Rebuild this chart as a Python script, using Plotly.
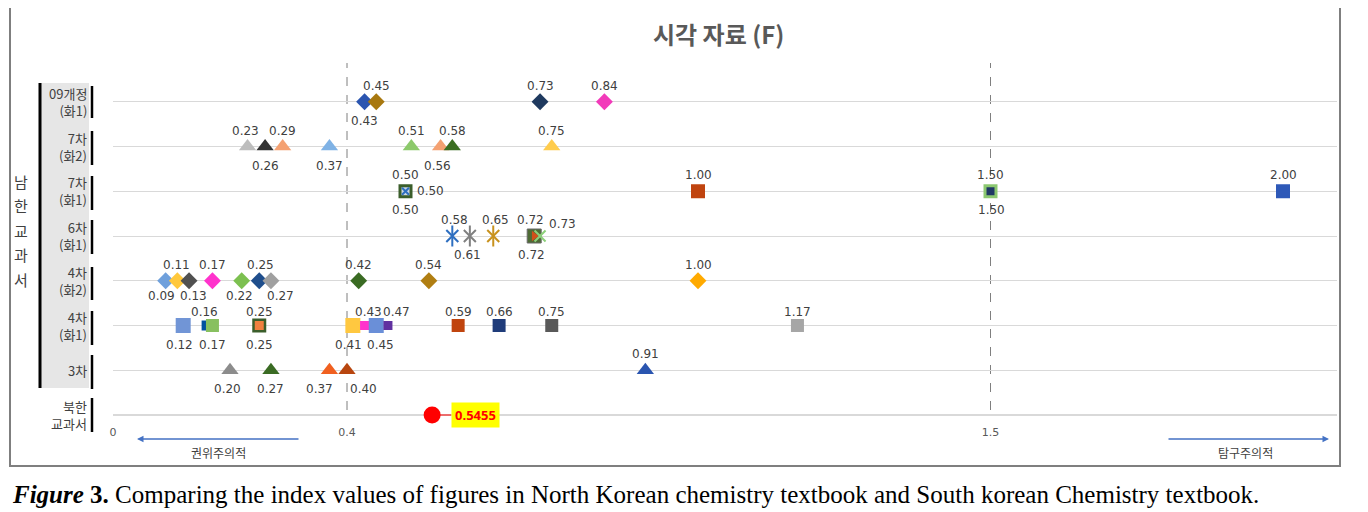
import plotly.graph_objects as go

# ---------------- data ----------------
row_labels = ["북한<br>교과서", "3차", "4차<br>(화1)", "4차<br>(화2)", "6차<br>(화1)",
              "7차<br>(화1)", "7차<br>(화2)", "09개정<br>(화1)"]
row_pos = [0, 1, 2, 3, 4, 5, 6, 7]

# 09개정(화1) – diamonds
r09_vals = [0.43, 0.45, 0.73, 0.84]
# 7차(화2) – triangles
r7b_vals = [0.23, 0.26, 0.29, 0.37, 0.51, 0.56, 0.58, 0.75]
# 7차(화1) – squares (layered)
r7a_outer_vals = [0.50, 1.00, 1.50, 2.00]
r7a_inner_vals = [0.50, 1.50]
r7a_x_vals = [0.50]
# 6차(화1)
r6_ast_vals = [0.58, 0.61, 0.65]
r6_sq_vals = [0.72]
r6_tri_vals = [0.72]
r6_x_vals = [0.73]
# 4차(화2) – diamonds
r4b_vals = [0.09, 0.11, 0.13, 0.17, 0.22, 0.25, 0.27, 0.42, 0.54, 1.00]
# 4차(화1) – squares
r4a_vals = [0.12, 0.16, 0.17, 0.25, 0.41, 0.43, 0.45, 0.47, 0.59, 0.66, 0.75, 1.17]
r4a_inner_vals = [0.25]
# 3차 – triangles
r3_vals = [0.20, 0.27, 0.37, 0.40, 0.91]
# 북한 교과서
nk_val = [0.5455]

x_ticks = [0, 0.4, 1.5]
x_ticktext = ["0", "0.4", "1.5"]

# ---------------- styles ----------------
r09_cols = ["#2B55B0", "#A8780F", "#1F3A5F", "#F23ABA"]
r7b_cols = ["#BDBDBD", "#333333", "#F4A172", "#7FB2E5", "#8CC96B", "#F4A172", "#3B6E22", "#FFCC4D"]
r7a_outer_cols = ["#3B5E2B", "#C0440F", "#8CC870", "#2E59B8"]
r7a_inner_cols = ["#C9D6E6", "#1F3864"]
r6_ast_cols = ["#2E6FC0", "#808080", "#C8921E"]
r4b_cols = ["#6FA0DC", "#FFC83C", "#505050", "#FF33CC", "#7CC050", "#1F4E8C",
            "#A0A0A0", "#3A6B23", "#B07E12", "#FFAA00"]
r4a_cols = ["#7195D6", "#0050A0", "#88C060", "#3B5E2B", "#FFC840", "#FF33CC",
            "#6A8FD8", "#6030A0", "#C0440E", "#1F3C7A", "#595959", "#A6A6A6"]
r4a_sizes = [15, 10, 13, 14, 15, 9, 15, 9, 13, 13, 13, 13]
r3_cols = ["#8C8C8C", "#3A6B23", "#F06020", "#B8460F", "#2A55B0"]

# label placement: (side, x-shift px)
r09_lbl = [("b", 0), ("a", 0), ("a", 0), ("a", 0)]
r7b_lbl = [("a", -2), ("b", 0), ("a", 0), ("b", 0), ("a", 0), ("b", -3), ("a", 0), ("a", 0)]
r7a_outer_lbl = [("a", 0), ("a", 0), ("a", 0), ("a", 0)]
r7a_inner_lbl = [("b", 0), ("b", 1)]
r7a_x_lbl = [("r", 25)]
r6_ast_lbl = [("a", 2), ("b", -2), ("a", 2)]
r6_sq_lbl = [("a", -4)]
r6_tri_lbl = [("b", -3)]
r6_x_lbl = [("ar", 22)]
r4b_lbl = [("bs", -4), ("a", -1), ("bs", 4), ("a", 0), ("bs", -2), ("a", 1), ("bs", 10),
           ("a", 0), ("a", 0), ("a", 0)]
r4a_lbl = [("b", -4), ("as", -2), ("b", 0), ("as", 0), ("b", -4), ("as", 4), ("b", 4), ("as", 9),
           ("as", 0), ("as", 0), ("as", 0), ("as", 0)]
r4a_inner_lbl = [("b", 0)]
r3_lbl = [("b", -3), ("b", 0), ("b", -10), ("b", 16), ("a", 0)]

# ---------------- layout helpers ----------------
OFF = 8                       # page offset of the plot div
W, H = 1368 - OFF, 512 - OFF
L, R, T, B = 113 - OFF, 1337 - OFF, 57 - OFF, 415 - OFF
XMAX = (R - L) / 585.0


def px(x):
    return (x - OFF - L) / (R - L)


def py(y):
    return (B - (y - OFF)) / (B - T)


LBL = dict(family="DejaVu Sans", size=12, color="#404040")
DY = {"a": 16, "as": 14, "b": -19, "bs": -15, "r": 0, "ar": 12}

fig = go.Figure()
annotations = []


def labels(vals, y, spec):
    for v, (side, dx) in zip(vals, spec):
        annotations.append(dict(x=v, y=y, xref="x", yref="y", text=f"{v:.2f}",
                                showarrow=False, xanchor="center", yanchor="middle",
                                xshift=dx, yshift=DY[side], font=LBL))


def add(vals, y, symbol, colors, size, spec=None, line=None, open_sym=False, lw=2):
    if open_sym:
        marker = dict(symbol=symbol, color=colors, size=size, opacity=1,
                      line=dict(width=lw, color=colors))
    else:
        marker = dict(symbol=symbol, color=colors, size=size, opacity=1,
                      line=line if line else dict(width=0))
    fig.add_trace(go.Scatter(x=vals, y=[y] * len(vals), mode="markers", marker=marker,
                             cliponaxis=False, showlegend=False, hoverinfo="x"))
    if spec:
        labels(vals, y, spec)


# 09개정
add(r09_vals, 7, "diamond", r09_cols, 13, r09_lbl)
# 7차(화2)
add(r7b_vals, 6, "triangle-up", r7b_cols, 15, r7b_lbl)
# 7차(화1)
add(r7a_outer_vals, 5, "square", r7a_outer_cols, 14, r7a_outer_lbl)
add(r7a_inner_vals, 5, "square", r7a_inner_cols, 8, r7a_inner_lbl)
add(r7a_x_vals, 5, "x-thin-open", ["#2E6FC0"], 7, r7a_x_lbl, open_sym=True)
# 6차(화1) asterisks (x + vertical bar)
add(r6_ast_vals, 4, "x-thin-open", r6_ast_cols, 12, r6_ast_lbl, open_sym=True)
add(r6_ast_vals, 4, "line-ns-open", r6_ast_cols, 15, None, open_sym=True)
add(r6_sq_vals, 4, "square", ["#4E6B35"], 14, r6_sq_lbl, line=dict(color="#6A6A6A", width=1))
add(r6_tri_vals, 4, "triangle-right", ["#D0501A"], 9, r6_tri_lbl)
add(r6_x_vals, 4, "x-thin-open", ["#8DD07A"], 11, r6_x_lbl, open_sym=True)
# 4차(화2)
add(r4b_vals, 3, "diamond", r4b_cols, 13, r4b_lbl)
# 4차(화1)
add(r4a_vals, 2, "square", r4a_cols, r4a_sizes, r4a_lbl)
add(r4a_inner_vals, 2, "square", ["#F08040"], 9, r4a_inner_lbl)
# 3차
add(r3_vals, 1, "triangle-up", r3_cols, 15, r3_lbl)
# 북한
fig.add_trace(go.Scatter(x=nk_val, y=[0], mode="markers",
                         marker=dict(symbol="circle", color="#FF0000", size=17, opacity=1),
                         cliponaxis=False, showlegend=False))

shapes = []

# 0.5455 label box
annotations.append(dict(x=nk_val[0], y=0, xref="x", yref="y", text=f"<b>{nk_val[0]:.4f}</b>",
                        showarrow=True, arrowhead=0, arrowcolor="#FF0000", arrowwidth=1,
                        ax=43, ay=0, axref="pixel", ayref="pixel", bgcolor="#FFFF00",
                        font=dict(family="Open Sans", size=13, color="#FF0000"),
                        borderpad=3, standoff=8))


def note(x, y, text, font, xanchor="center"):
    annotations.append(dict(x=px(x), y=py(y), xref="paper", yref="paper", showarrow=False,
                            xanchor=xanchor, yanchor="middle", text=text, font=font))


# title
note(718, 33, "<b>시각 자료 (F)</b>", dict(family="Noto Sans CJK KR", size=24, color="#595959"))

# row labels
for lab, yp in zip(row_labels, row_pos):
    annotations.append(dict(x=px(89), y=yp, xref="paper", yref="y", showarrow=False,
                            xanchor="right", yanchor="middle", align="right", text=lab,
                            font=dict(family="Noto Sans CJK KR", size=13, color="#404040")))

# vertical group title
for i, ch in enumerate("남한교과서"):
    note(21, 181 + i * 24.5, ch, dict(family="Noto Sans CJK KR", size=15, color="#404040"))

# direction arrows
annotations.append(dict(x=px(137), y=py(439), xref="paper", yref="paper", text="",
                        showarrow=True, arrowhead=2, arrowsize=1, arrowwidth=1.3,
                        arrowcolor="#4472C4", ax=163, ay=0))
annotations.append(dict(x=px(1329), y=py(439), xref="paper", yref="paper", text="",
                        showarrow=True, arrowhead=2, arrowsize=1, arrowwidth=1.3,
                        arrowcolor="#4472C4", ax=-162, ay=0))
note(218, 452, "권위주의적", dict(family="Noto Sans CJK KR", size=12, color="#404040"))
note(1245, 452, "탐구주의적", dict(family="Noto Sans CJK KR", size=12, color="#404040"))

# caption
note(10, 494, "<b><i>Figure</i> 3.</b> Comparing the index values of figures in North Korean "
              "chemistry textbook and South korean Chemistry textbook.",
     dict(family="Liberation Serif", size=25, color="#000000"), xanchor="left")

# outer border
shapes.append(dict(type="rect", xref="paper", yref="paper", x0=px(10), x1=px(1340),
                   y0=py(466), y1=py(5), line=dict(color="#7F7F7F", width=2)))
# gray label background
shapes.append(dict(type="rect", xref="paper", yref="paper", x0=px(40), x1=px(89),
                   y0=py(388), y1=py(83), fillcolor="#E6E6E6", line=dict(width=0), layer="below"))
shapes.append(dict(type="line", xref="paper", yref="paper", x0=px(40), x1=px(40),
                   y0=py(388), y1=py(83), line=dict(color="#000000", width=3)))
# right-side bars
bar_spans = [(398, 432), (355, 389), (311, 345), (267, 300), (220, 254), (176, 210), (131, 165), (86, 118)]
for y0, y1 in bar_spans:
    shapes.append(dict(type="line", xref="paper", yref="paper", x0=px(92), x1=px(92),
                       y0=py(y1), y1=py(y0), line=dict(color="#000000", width=2.5)))
# dashed reference lines
for xv in [0.4, 1.5]:
    shapes.append(dict(type="line", xref="x", yref="paper", x0=xv, x1=xv,
                       y0=py(410), y1=py(63), line=dict(color="#7F7F7F", width=1, dash="dash"),
                       layer="below"))

fig.update_layout(
    width=W, height=H, margin=dict(l=L, r=W - R, t=T, b=H - B),
    paper_bgcolor="#FFFFFF", plot_bgcolor="#FFFFFF",
    xaxis=dict(range=[0, XMAX], tickvals=x_ticks, ticktext=x_ticktext, showgrid=False,
               zeroline=False, showline=False, ticks="", ticklabelstandoff=9,
               tickfont=dict(family="DejaVu Sans", size=11, color="#595959")),
    yaxis=dict(range=[0, 8], dtick=1, showgrid=True, gridcolor="#D9D9D9", gridwidth=1,
               zeroline=True, zerolinecolor="#D9D9D9", zerolinewidth=1.5,
               showticklabels=False, ticks=""),
    annotations=annotations, shapes=shapes,
)

fig.write_html("out.html")
